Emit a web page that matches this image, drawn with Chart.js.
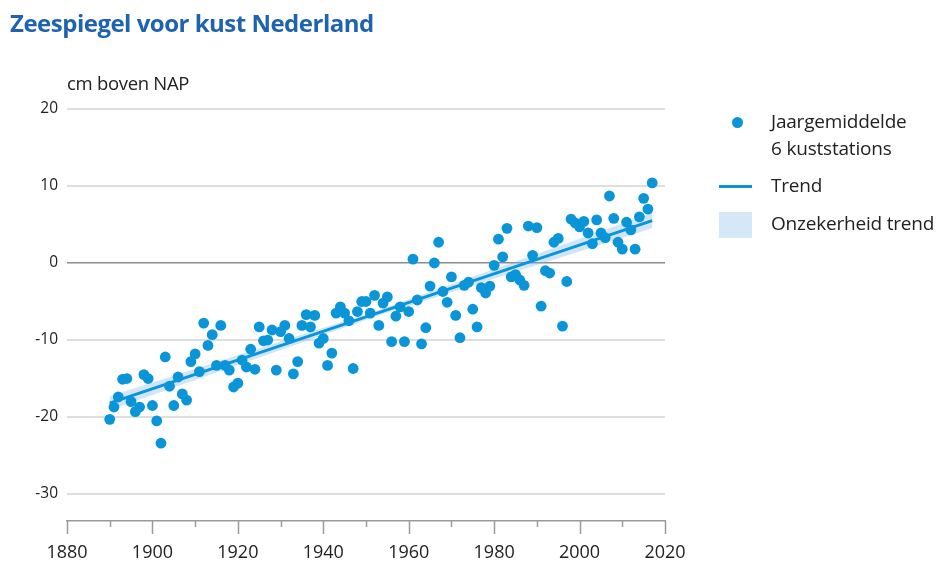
<!DOCTYPE html>
<html>
<head>
<meta charset="utf-8">
<script src="https://cdn.jsdelivr.net/npm/chart.js@4.4.0/dist/chart.umd.min.js"></script>
<style>
  html, body { margin: 0; padding: 0; background: #fff; }
  #wrap { position: relative; width: 941px; height: 564px; font-family: "Open Sans", sans-serif; color: #222; }
  #chart { position: absolute; left: 0; top: 0; }
  .title { position: absolute; left: 10px; top: 6px; font: bold 24px "Open Sans", sans-serif; color: #1f63b0; letter-spacing: -0.5px; }
  .unit { position: absolute; left: 67px; top: 70px; font-size: 18.5px; letter-spacing: -0.3px; }
  .legend { position: absolute; left: 0; top: 0; font-size: 19px; letter-spacing: -0.2px; }
  .legend div { position: absolute; white-space: nowrap; }
  .dot { width: 11px; height: 11px; border-radius: 50%; background: #0a95d8; }
  .ln { width: 33px; height: 3px; background: #0a95d8; }
  .sq { width: 33px; height: 26px; background: #d5e8f8; }
</style>
</head>
<body>
<div id="wrap">
  <canvas id="chart" width="941" height="564"></canvas>
  <div class="title">Zeespiegel voor kust Nederland</div>
  <div class="unit">cm boven NAP</div>
  <div class="legend">
    <div class="dot" style="left:732px; top:117px;"></div>
    <div style="left:771px; top:108px; line-height:27px;">Jaargemiddelde<br>6 kuststations</div>
    <div class="ln" style="left:719px; top:185px;"></div>
    <div style="left:771px; top:172px;">Trend</div>
    <div class="sq" style="left:719px; top:212px;"></div>
    <div style="left:771px; top:210px;">Onzekerheid trend</div>
  </div>
</div>
<script>
// jaargemiddelde zeespiegel, 6 kuststations (cm t.o.v. NAP)
const years = [
  1890, 1891, 1892, 1893, 1894, 1895, 1896, 1897, 1898, 1899,
  1900, 1901, 1902, 1903, 1904, 1905, 1906, 1907, 1908, 1909,
  1910, 1911, 1912, 1913, 1914, 1915, 1916, 1917, 1918, 1919,
  1920, 1921, 1922, 1923, 1924, 1925, 1926, 1927, 1928, 1929,
  1930, 1931, 1932, 1933, 1934, 1935, 1936, 1937, 1938, 1939,
  1940, 1941, 1942, 1943, 1944, 1945, 1946, 1947, 1948, 1949,
  1950, 1951, 1952, 1953, 1954, 1955, 1956, 1957, 1958, 1959,
  1960, 1961, 1962, 1963, 1964, 1965, 1966, 1967, 1968, 1969,
  1970, 1971, 1972, 1973, 1974, 1975, 1976, 1977, 1978, 1979,
  1980, 1981, 1982, 1983, 1984, 1985, 1986, 1987, 1988, 1989,
  1990, 1991, 1992, 1993, 1994, 1995, 1996, 1997, 1998, 1999,
  2000, 2001, 2002, 2003, 2004, 2005, 2006, 2007, 2008, 2009,
  2010, 2011, 2012, 2013, 2014, 2015, 2016, 2017
];
const seaLevel = [
  -20.3, -18.7, -17.4, -15.1, -15.0, -18.0, -19.3, -18.7, -14.5, -15.0,
  -18.5, -20.5, -23.4, -12.2, -16.0, -18.5, -14.8, -17.0, -17.8, -12.8,
  -11.8, -14.1, -7.8, -10.7, -9.3, -13.3, -8.1, -13.3, -13.9, -16.1,
  -15.6, -12.6, -13.5, -11.2, -13.8, -8.3, -10.1, -10.0, -8.7, -13.9,
  -8.9, -8.1, -9.8, -14.4, -12.8, -8.1, -6.7, -8.3, -6.8, -10.4,
  -9.8, -13.3, -11.7, -6.5, -5.7, -6.5, -7.5, -13.7, -6.3, -5.0,
  -5.0, -6.5, -4.2, -8.1, -5.2, -4.4, -10.2, -6.9, -5.7, -10.2,
  -6.3, 0.5, -4.8, -10.5, -8.4, -3.0, 0.0, 2.7, -3.7, -5.1,
  -1.8, -6.8, -9.7, -2.9, -2.5, -6.0, -8.3, -3.2, -3.9, -3.0,
  -0.3, 3.1, 0.8, 4.5, -1.8, -1.5, -2.2, -2.9, 4.8, 1.0,
  4.6, -5.6, -1.0, -1.3, 2.7, 3.2, -8.2, -2.4, 5.7, 5.2,
  4.7, 5.4, 3.9, 2.5, 5.6, 3.9, 3.3, 8.7, 5.8, 2.7,
  1.8, 5.3, 4.3, 1.8, 6.0, 8.4, 7.0, 10.4
];

const trendYears = [1890, 2017];
const trendValues = [-18.2, 5.5];

const bandYears = [1890, 1953, 2017];
const bandLow = [-19.1, -6.8, 4.5];
const bandHigh = [-17.3, -6.1, 6.5];

const yTicks = [-30, -20, -10, 0, 10, 20];

const BLUE = "#0a95d8";

const toXY = (xs, ys) => xs.map((x, i) => ({ x, y: ys[i] }));

// tick marks under the x axis: long ones at labelled years, short ones between
const xTickMarks = {
  id: "xTickMarks",
  afterDraw(chart) {
    const { ctx, chartArea } = chart;
    const x = chart.scales.x;
    ctx.save();
    ctx.strokeStyle = "#9a9a9a";
    ctx.lineWidth = 1.5;
    x.ticks.forEach((t) => {
      const px = Math.round(x.getPixelForValue(t.value)) + 0.5;
      const len = t.value % 20 === 0 ? 13 : 6;
      ctx.beginPath();
      ctx.moveTo(px, chartArea.bottom);
      ctx.lineTo(px, chartArea.bottom + len);
      ctx.stroke();
    });
    ctx.restore();
  },
};

new Chart(document.getElementById("chart"), {
  type: "scatter",
  data: {
    datasets: [
      {
        label: "Jaargemiddelde 6 kuststations",
        data: toXY(years, seaLevel),
        backgroundColor: BLUE,
        borderWidth: 0,
        pointRadius: 5.4,
        order: 0,
      },
      {
        type: "line",
        label: "Trend",
        data: toXY(trendYears, trendValues),
        borderColor: BLUE,
        borderWidth: 3,
        pointRadius: 0,
        showLine: true,
        fill: false,
        order: 1,
      },
      {
        type: "line",
        label: "band-low",
        data: toXY(bandYears, bandLow),
        borderWidth: 0,
        borderColor: "rgba(0,0,0,0)",
        pointRadius: 0,
        showLine: true,
        fill: false,
        order: 3,
      },
      {
        type: "line",
        label: "Onzekerheid trend",
        data: toXY(bandYears, bandHigh),
        borderWidth: 0,
        borderColor: "rgba(0,0,0,0)",
        backgroundColor: "rgba(120,180,235,0.35)",
        pointRadius: 0,
        showLine: true,
        fill: "-1",
        order: 2,
      },
    ],
  },
  options: {
    responsive: false,
    animation: false,
    layout: { padding: { top: 109, right: 276, left: 0, bottom: 0 } },
    plugins: {
      legend: { display: false },
      tooltip: { enabled: false },
    },
    scales: {
      x: {
        type: "linear",
        min: 1880,
        max: 2020,
        ticks: {
          stepSize: 10,
          padding: 21,
          autoSkip: false,
          maxRotation: 0,
          minRotation: 0,
          color: "#222",
          font: { family: "Open Sans", size: 18 },
          callback: (v) => (v % 20 === 0 ? String(v) : ""),
        },
        grid: { drawOnChartArea: false, drawTicks: false },
        border: { display: true, color: "#9a9a9a", width: 1.5 },
        afterFit: (s) => { s.height = 43; },
      },
      y: {
        min: -33.5,
        max: 20,
        afterBuildTicks: (s) => { s.ticks = yTicks.map((v) => ({ value: v })); },
        ticks: {
          padding: 9,
          color: "#222",
          font: { family: "Open Sans", size: 15.5 },
        },
        grid: {
          drawTicks: false,
          color: (c) => (c.tick && c.tick.value === 0 ? "#8c8c8c" : "#dedede"),
          lineWidth: (c) => (c.tick && c.tick.value === 0 ? 1.5 : 2),
        },
        border: { display: false },
        afterFit: (s) => { s.width = 67; },
      },
    },
  },
  plugins: [xTickMarks],
});
</script>
</body>
</html>
